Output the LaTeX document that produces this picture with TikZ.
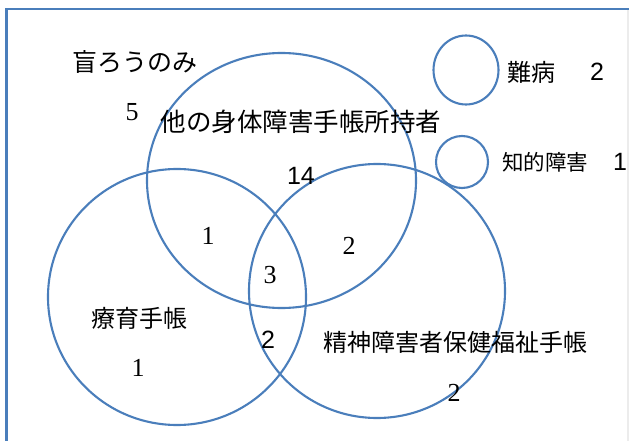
\documentclass[tikz,border=0pt]{standalone}
\usepackage{fontspec}
\usepackage{tikz}
\usetikzlibrary{shapes.geometric}
\newfontfamily\jpsans{Noto Sans CJK JP}
\newfontfamily\numsans{Liberation Sans}
\newfontfamily\numserif{Liberation Serif}
\definecolor{ringblue}{RGB}{74,126,187}
\newcommand{\physc}[0]{(281.5, 180.5)}
\newcommand{\ryouc}[0]{(177, 297)}
\newcommand{\seishinc}[0]{(377, 291)}
\newcommand{\nanbyoc}[0]{(466, 70)}
\newcommand{\chitekic}[0]{(462, 162)}
\tikzset{
  ring/.style={ellipse, draw=ringblue, line width=2.1pt, inner sep=0pt},
  smallring/.style={ring, fill=white},
  jplabel/.style={inner sep=0pt, font=\jpsans\fontsize{24}{28}\selectfont},
  numserif/.style={inner sep=0pt, font=\numserif\fontsize{26}{30}\selectfont},
  numsans/.style={inner sep=0pt, font=\numsans\fontsize{25}{28}\selectfont}
}

\begin{document}
\begin{tikzpicture}[x=1pt, y=-1pt]
\useasboundingbox (0,0) rectangle (629,441);
\draw [gray!15, line width=2pt] (627.5,9) -- (627.5,441);
\draw [ringblue, line width=2.4pt] (6.5,441) -- (6.5,9) -- (629,9);
\node [ring, minimum width=269pt, minimum height=255pt] (phys) at \physc{} {};
\node [ring, minimum width=258pt, minimum height=256pt] (ryou) at \ryouc{} {};
\node [ring, minimum width=256pt, minimum height=254pt] (seishin) at \seishinc{} {};
\node [smallring, minimum width=65pt, minimum height=69pt] (nanbyo) at \nanbyoc{} {};
\node [smallring, minimum width=52pt, minimum height=52pt] (chiteki) at \chitekic{} {};
\node [jplabel, font=\jpsans\fontsize{25}{28}\selectfont] (mouro) at (135,62) {盲ろうのみ};
\node [numserif] (mouron) at (132,112) {5};
\node [jplabel, font=\jpsans\fontsize{25.5}{28}\selectfont] (physl) at (301,122) {他の身体障害手帳所持者};
\node [numsans] (physn) at (301,176) {14};
\node [numserif] (pr) at (208,236) {1};
\node [numserif] (ps) at (349,246) {2};
\node [numserif] (prs) at (270,275) {3};
\node [jplabel] (ryoul) at (139,318) {療育手帳};
\node [numserif] (ryoun) at (138,368) {1};
\node [numsans] (rs) at (268,340) {2};
\node [jplabel] (seishinl) at (455,342) {精神障害者保健福祉手帳};
\node [numserif] (seishinn) at (454,393) {2};
\node [jplabel, anchor=west] (nanbyol) at (507,72) {難病};
\node [numsans] (nanbyon) at (597,72) {2};
\node [jplabel, anchor=west, font=\jpsans\fontsize{21.5}{26}\selectfont] (chitekil) at (502,162) {知的障害};
\node [numsans] (chitekin) at (620,162) {1};
\end{tikzpicture}
\end{document}
